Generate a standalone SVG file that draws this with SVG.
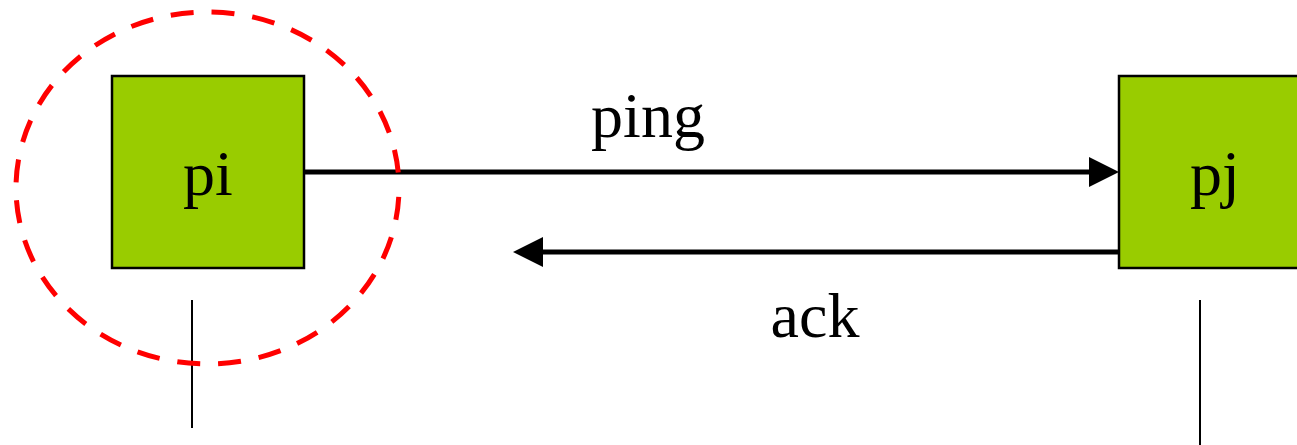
<svg xmlns="http://www.w3.org/2000/svg" width="1297" height="445" viewBox="0 0 1297 445">
<style>
.node{fill:#99cc00;stroke:#000;stroke-width:2.5}
.lbl{font-family:"Liberation Serif","Times New Roman",serif;font-size:64px;fill:#000;text-anchor:middle}
.msg{stroke:#000;stroke-width:5;fill:none}
.life{stroke:#000;stroke-width:2;fill:none}
</style>
<defs>
<marker id="ah" markerUnits="userSpaceOnUse" markerWidth="30" markerHeight="30" viewBox="0 0 30 30" refX="10" refY="15" orient="auto">
<path d="M0,0 L30,15 L0,30 Z" fill="#000"/>
</marker>
</defs>
<g id="pi">
<rect class="node" x="112" y="76" width="192" height="192"/>
<text class="lbl" x="208" y="195">pi</text>
</g>
<g id="pj">
<rect class="node" x="1119" y="76" width="192" height="192"/>
<text class="lbl" x="1215" y="195">pj</text>
</g>
<g id="lifelines">
<line class="life" x1="192" y1="300" x2="192" y2="428"/>
<line class="life" x1="1200" y1="300" x2="1200" y2="445"/>
</g>
<g id="connectors">
<line class="msg" x1="304" y1="172" x2="1099" y2="172" marker-end="url(#ah)"/>
<line class="msg" x1="1119" y1="252" x2="533" y2="252" marker-end="url(#ah)"/>
<text class="lbl" x="648" y="137">ping</text>
<text class="lbl" x="815" y="337">ack</text>
</g>
<g id="focus">
<ellipse cx="207.5" cy="188" rx="191.5" ry="176" fill="none" stroke="#ff0000" stroke-width="5" stroke-dasharray="23,18" stroke-dashoffset="32"/>
</g>
</svg>
